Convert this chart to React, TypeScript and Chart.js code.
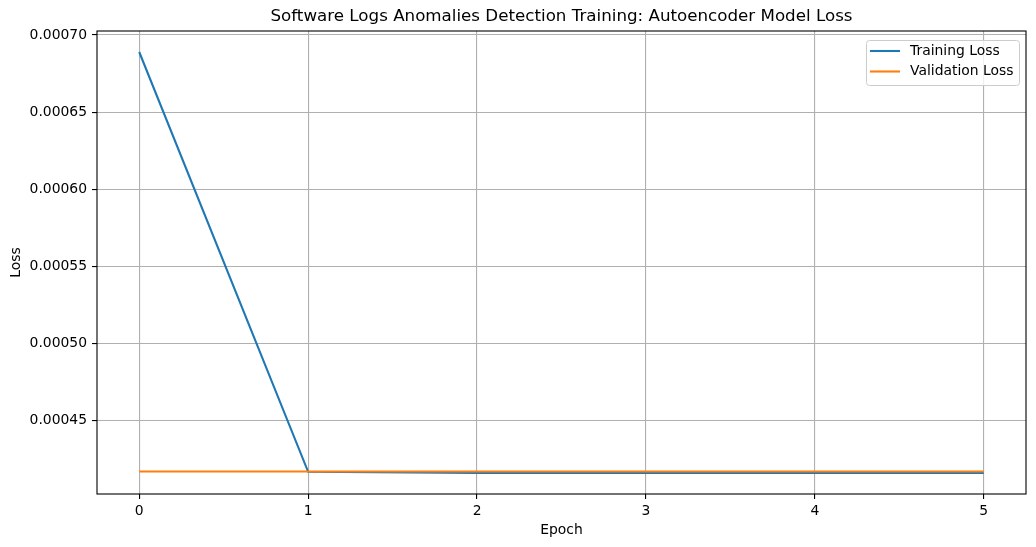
import React, { useEffect, useRef } from "react";
import { Chart, registerables } from "chart.js";

Chart.register(...registerables);

const epochs = [0, 1, 2, 3, 4, 5];
const trainingLoss = [0.000689, 0.000417, 0.0004162, 0.0004162, 0.0004162, 0.0004162];
const validationLoss = [0.0004172, 0.0004172, 0.0004172, 0.0004172, 0.0004172, 0.0004172];
const xTicks = [0, 1, 2, 3, 4, 5];
const yTicks = [0.00045, 0.0005, 0.00055, 0.0006, 0.00065, 0.0007];
const titleText = "Software Logs Anomalies Detection Training: Autoencoder Model Loss";
const xLabel = "Epoch";
const yLabel = "Loss";
const seriesNames = ["Training Loss", "Validation Loss"];
const seriesColors = ["#1f77b4", "#ff7f0e"];

const FONT = "'DejaVu Sans', sans-serif";

export default function App() {
  const ref = useRef<HTMLCanvasElement | null>(null);
  useEffect(() => {
    if (!ref.current) return;
    const decor = {
      id: "decor",
      afterDatasetsDraw(chart: any) {
        const { ctx, chartArea } = chart;
        const { left, right, top, bottom } = chartArea;
        ctx.save();
        ctx.strokeStyle = "#000";
        ctx.lineWidth = 1.1;
        ctx.strokeRect(left, top, right - left, bottom - top);
        ctx.fillStyle = "#000";
        ctx.font = `16.7px ${FONT}`;
        ctx.textAlign = "center";
        ctx.textBaseline = "middle";
        ctx.fillText(titleText, (left + right) / 2, 17);
        ctx.font = `13.9px ${FONT}`;
        ctx.fillText(xLabel, (left + right) / 2, 530);
        ctx.save();
        ctx.translate(16, (top + bottom) / 2);
        ctx.rotate(-Math.PI / 2);
        ctx.fillText(yLabel, 0, 0);
        ctx.restore();
        const lx = 866.5, ly = 40.5, lw = 153, lh = 45;
        ctx.beginPath();
        const r = 3;
        ctx.moveTo(lx + r, ly);
        ctx.lineTo(lx + lw - r, ly);
        ctx.quadraticCurveTo(lx + lw, ly, lx + lw, ly + r);
        ctx.lineTo(lx + lw, ly + lh - r);
        ctx.quadraticCurveTo(lx + lw, ly + lh, lx + lw - r, ly + lh);
        ctx.lineTo(lx + r, ly + lh);
        ctx.quadraticCurveTo(lx, ly + lh, lx, ly + lh - r);
        ctx.lineTo(lx, ly + r);
        ctx.quadraticCurveTo(lx, ly, lx + r, ly);
        ctx.closePath();
        ctx.fillStyle = "rgba(255,255,255,0.8)";
        ctx.fill();
        ctx.strokeStyle = "#cccccc";
        ctx.lineWidth = 1;
        ctx.stroke();
        ctx.textAlign = "left";
        ctx.font = `13.9px ${FONT}`;
        seriesNames.forEach((name, i) => {
          const y = 51 + i * 20.5;
          ctx.strokeStyle = seriesColors[i];
          ctx.lineWidth = 2.1;
          ctx.beginPath();
          ctx.moveTo(870, y);
          ctx.lineTo(900, y);
          ctx.stroke();
          ctx.fillStyle = "#000";
          ctx.fillText(name, 910, y);
        });
        ctx.restore();
      },
    };
    const chart = new Chart(ref.current, {
      type: "line",
      data: {
        datasets: [
          {
            label: seriesNames[0],
            data: epochs.map((x, i) => ({ x, y: trainingLoss[i] })),
            borderColor: seriesColors[0],
            borderWidth: 2.1,
            pointRadius: 0,
            tension: 0,
            order: 1,
          },
          {
            label: seriesNames[1],
            data: epochs.map((x, i) => ({ x, y: validationLoss[i] })),
            borderColor: seriesColors[1],
            borderWidth: 2.1,
            pointRadius: 0,
            tension: 0,
            order: 0,
          },
        ],
      },
      options: {
        animation: false,
        responsive: false,
        maintainAspectRatio: false,
        layout: { padding: { left: 0, top: 31, right: 10, bottom: 0 } },
        plugins: { legend: { display: false }, title: { display: false }, tooltip: { enabled: false } },
        scales: {
          x: {
            type: "linear",
            min: -0.25,
            max: 5.25,
            afterBuildTicks: (s: any) => {
              s.ticks = xTicks.map((v) => ({ value: v }));
            },
            afterFit: (s: any) => {
              s.height = 53;
            },
            grid: { color: "#b0b0b0", lineWidth: 1.1, tickColor: "#000", tickLength: 5, drawOnChartArea: true },
            border: { display: false },
            ticks: { color: "#000", font: { family: FONT, size: 13.9 }, padding: 4, maxRotation: 0, callback: (v: any) => String(v) },
          },
          y: {
            type: "linear",
            min: 0.0004026,
            max: 0.0007026,
            afterBuildTicks: (s: any) => {
              s.ticks = yTicks.map((v) => ({ value: v }));
            },
            afterFit: (s: any) => {
              s.width = 97;
            },
            grid: { color: "#b0b0b0", lineWidth: 1.1, tickColor: "#000", tickLength: 5 },
            border: { display: false },
            ticks: { color: "#000", font: { family: FONT, size: 13.9 }, padding: 5, callback: (v: any) => Number(v).toFixed(5) },
          },
        },
      },
      plugins: [decor],
    });
    return () => chart.destroy();
  }, []);
  return (
    <div style={{ position: "absolute", left: 0, top: 0, width: 1036, height: 547, background: "#fff" }}>
      <canvas ref={ref} width={1036} height={547} style={{ width: 1036, height: 547 }} />
    </div>
  );
}
